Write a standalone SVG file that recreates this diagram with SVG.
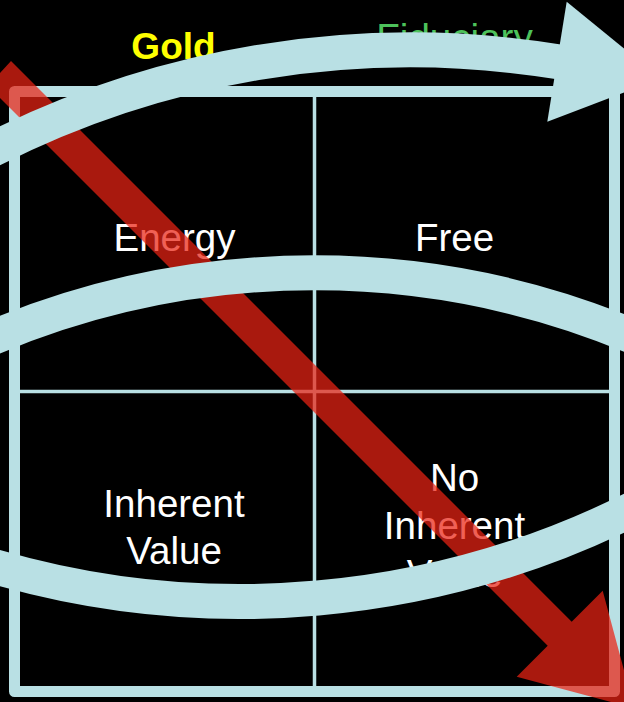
<svg xmlns="http://www.w3.org/2000/svg" width="624" height="702" viewBox="0 0 624 702">
<style>
.grid{fill:none;stroke:#b9e0e4}
.cell{font-family:"Liberation Sans",Arial,sans-serif;font-size:38.5px;fill:#ffffff;text-anchor:middle}
.band{fill:none;stroke:#b9e0e4;stroke-width:35}
.head{fill:#b9e0e4}
</style>
<rect x="0" y="0" width="624" height="702" fill="#000000"/>
<g id="grid">
<rect class="grid" x="14.5" y="91.5" width="600" height="600" stroke-width="11" stroke-linejoin="round"/>
<line class="grid" x1="314.5" y1="97" x2="314.5" y2="686" stroke-width="3.5"/>
<line class="grid" x1="20" y1="391.5" x2="609" y2="391.5" stroke-width="3.5"/>
</g>
<g id="header-gold"><text x="173.5" y="59" font-family="Liberation Sans,Arial,sans-serif" font-weight="bold" font-size="37" fill="#ffff00" text-anchor="middle">Gold</text></g>
<g id="header-fiduciary"><text x="454.5" y="51" font-family="Liberation Sans,Arial,sans-serif" font-size="38.6" fill="#4dc25b" text-anchor="middle">Fiduciary</text></g>
<g id="cell-energy"><text class="cell" x="174.5" y="251">Energy</text></g>
<g id="cell-free"><text class="cell" x="454.5" y="251">Free</text></g>
<g id="cell-inherent"><text class="cell" x="174" y="517">Inherent</text><text class="cell" x="174" y="563.5">Value</text></g>
<g id="cell-noinherent"><text class="cell" x="454.5" y="491">No</text><text class="cell" x="454.5" y="539">Inherent</text><text class="cell" x="454.5" y="587">Value</text></g>
<g id="connectors">
<polygon id="red-arrow" fill="#ea2314" fill-opacity="0.72" points="11,61 571.7,621.7 602.7,590.7 634.2,708.2 516.7,676.7 547.7,645.7 -12,86"/>
<path class="band" d="M -20,156 A 925 925 0 0 1 558,61.8"/>
<polygon class="head" points="566.7,1.8 660.7,78.5 547.3,121.8"/>
<path class="band" d="M -20,343 A 830 830 0 0 1 648,343"/>
<path class="band" d="M -20,562.2 A 880 880 0 0 0 644,503.3"/>
</g>
</svg>
